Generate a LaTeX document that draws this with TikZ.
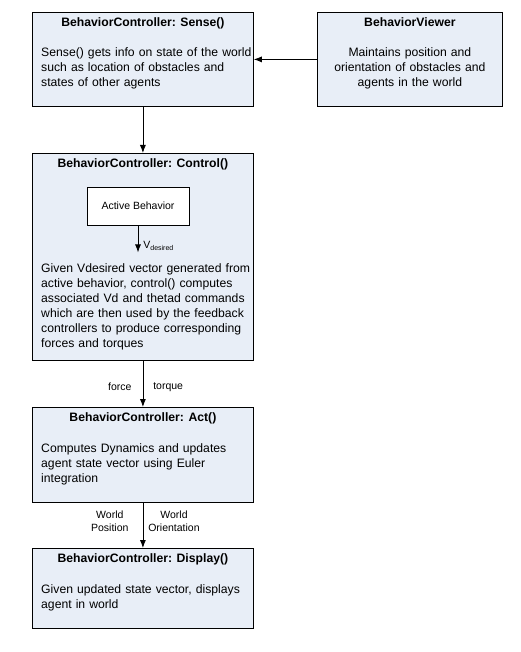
\documentclass[tikz,border=0pt]{standalone}
\usepackage{fontspec}
\setmainfont{Liberation Sans}
\usetikzlibrary{arrows.meta,positioning}
\definecolor{bcfill}{RGB}{232,238,247}
\definecolor{bcline}{RGB}{0,0,0}

\tikzset{
  ctrlbox/.style={draw=bcline, fill=bcfill, line width=0.8pt, minimum width=221pt, anchor=north west, inner sep=0},
  activebox/.style={draw=bcline, fill=white, line width=0.8pt, minimum width=102pt, minimum height=38pt, font=\fontsize{10.5}{13}\selectfont},
  boxtitle/.style={font=\fontsize{12.2}{15}\selectfont\bfseries, inner sep=0, text height=9pt, text depth=3pt},
  boxtext/.style={font=\fontsize{12.2}{15}\selectfont, inner sep=0, align=left, text width=215pt},
  flowarrow/.style={-{Latex[length=8pt,width=6pt]}, line width=0.8pt},
  edgelabel/.style={font=\fontsize{10.5}{13}\selectfont, inner sep=0, align=center}
}

\begin{document}
\begin{tikzpicture}[x=1pt,y=-1pt]
\useasboundingbox (0,0) rectangle (520,652);
% Sense
\node[ctrlbox, minimum height=94pt] (sense) at (32,12) {};
\node[boxtitle, below=5.4pt of sense.north] (sensetitle) {BehaviorController: Sense()};
\node[boxtext, below right=35.5pt and 9pt of sense.north west] (sensetext)
  {Sense() gets info on state of the world\\such as location of obstacles and\\states of other agents};
% Viewer
\node[ctrlbox, minimum width=185pt, minimum height=94pt] (viewer) at (317,12) {};
\node[boxtitle, below=5.4pt of viewer.north] (viewertitle) {BehaviorViewer};
\node[boxtext, align=center, text width=180pt, below=35.5pt of viewer.north] (viewertext)
  {Maintains position and\\orientation of obstacles and\\agents in the world};
% Control
\node[ctrlbox, minimum height=207pt] (control) at (32,153) {};
\node[boxtitle, below=5.4pt of control.north] (controltitle) {BehaviorController: Control()};
\node[activebox] (active) at (138,206) {Active Behavior};
\coordinate[below=27pt of active.south] (vdesired);
\node[boxtext, below right=110.5pt and 9pt of control.north west] (controltext)
  {Given Vdesired vector generated from\\active behavior, control() computes\\associated Vd and thetad commands\\which are then used by the feedback\\controllers to produce corresponding\\forces and torques};
% Act
\node[ctrlbox, minimum height=95pt] (act) at (32,407) {};
\node[boxtitle, below=5.4pt of act.north] (acttitle) {BehaviorController: Act()};
\node[boxtext, below right=36.5pt and 9pt of act.north west] (acttext)
  {Computes Dynamics and updates\\agent state vector using Euler\\integration};
% Display
\node[ctrlbox, minimum height=80pt] (display) at (32,548) {};
\node[boxtitle, below=5.4pt of display.north] (displaytitle) {BehaviorController: Display()};
\node[boxtext, below right=36.5pt and 9pt of display.north west] (displaytext)
  {Given updated state vector, displays\\agent in world};
% Connectors
\draw[flowarrow] (viewer) -- (sense);
\draw[flowarrow] (sense) -- (control);
\draw[flowarrow] (active) -- (vdesired)
  node[edgelabel, pos=0.75, right=5pt] {V\textsubscript{\fontsize{7}{8}\selectfont desired}};
\draw[flowarrow] (control) -- (act)
  node[edgelabel, pos=0.57, left=11pt] {force}
  node[edgelabel, pos=0.57, right=10pt] {torque};
\draw[flowarrow] (act) -- (display)
  node[edgelabel, pos=0.41, left=14pt] {World\\Position}
  node[edgelabel, pos=0.41, right=5pt] {World\\Orientation};
\end{tikzpicture}
\end{document}
